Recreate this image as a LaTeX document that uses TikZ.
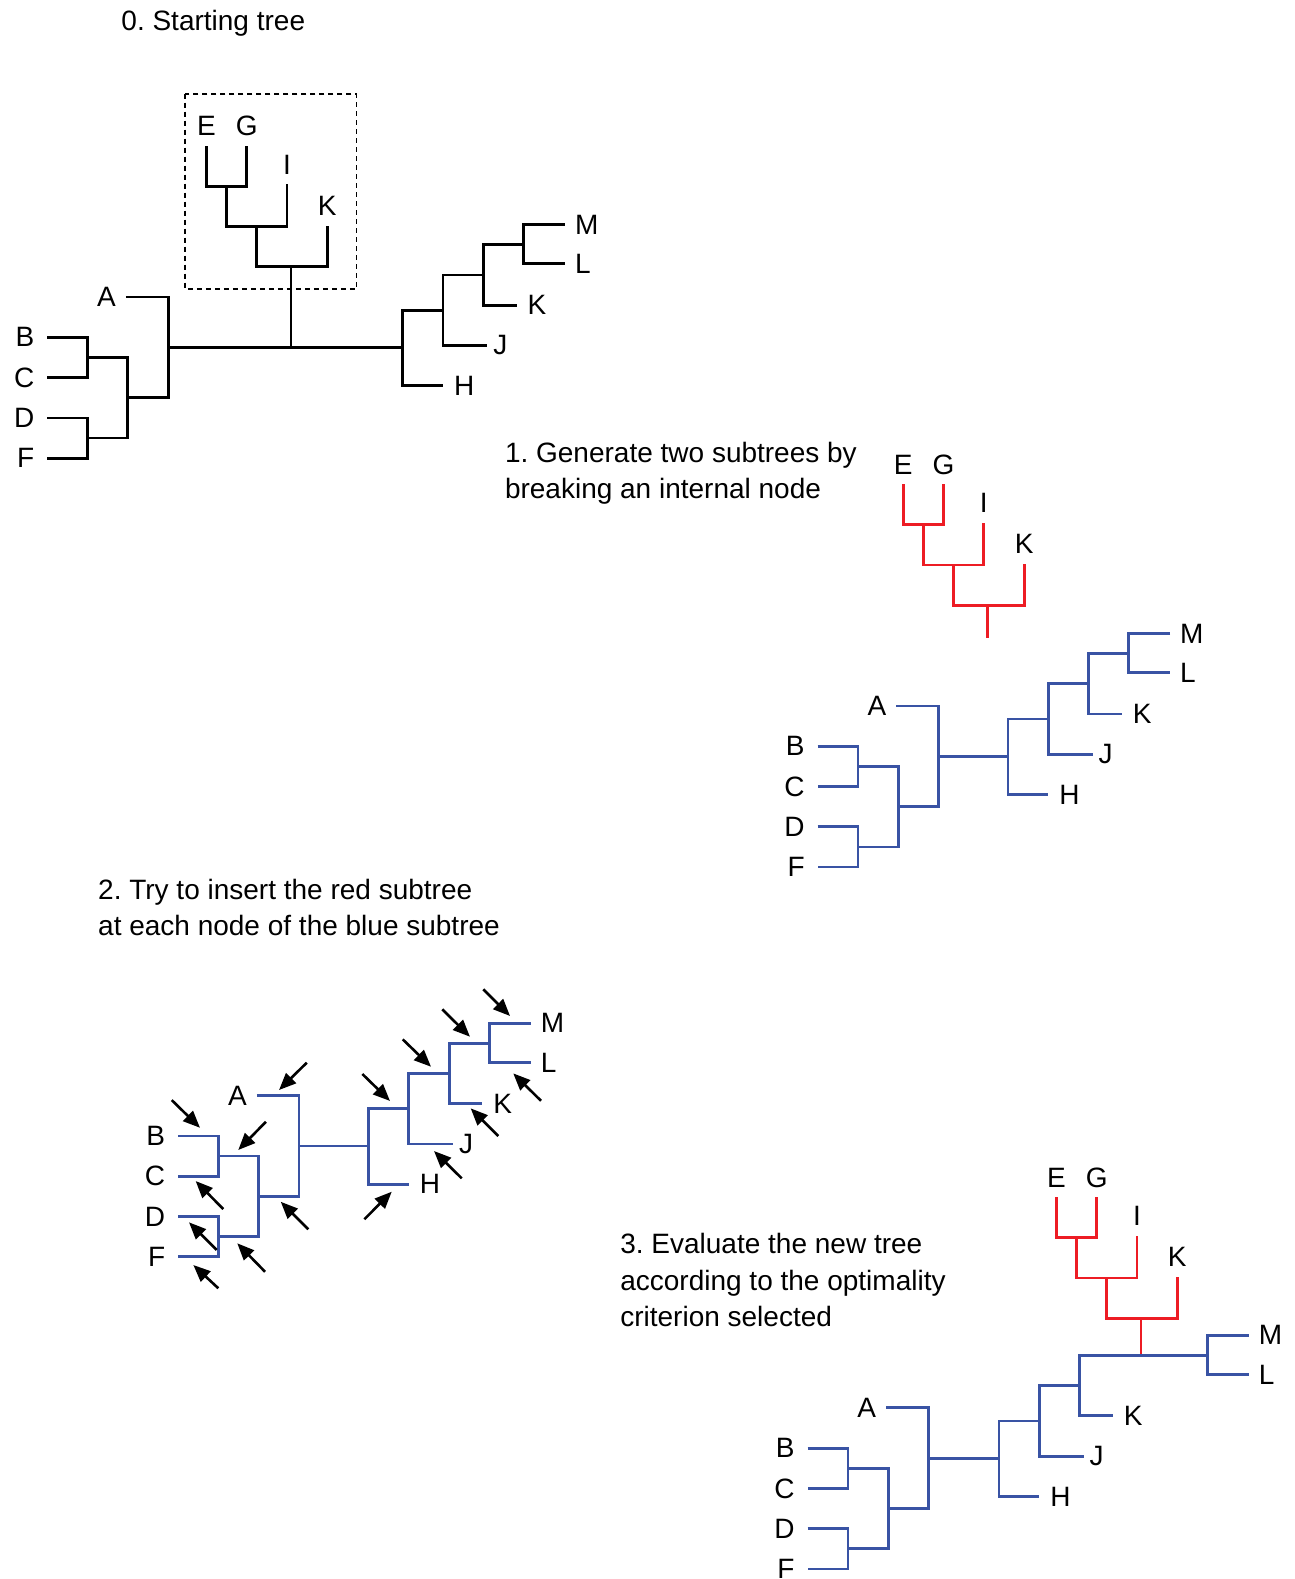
\documentclass[tikz,border=0pt]{standalone}
\usepackage{fontspec}
\setmainfont{Liberation Sans}
\usetikzlibrary{arrows.meta}
\frenchspacing
\definecolor{treeblue}{RGB}{57,83,164}
\definecolor{treered}{RGB}{237,28,36}
\tikzset{
  br/.style={line width=2.8pt, line cap=butt, line join=miter},
  lbl/.style={inner sep=0pt, outer sep=0pt, text=black, font=\fontsize{28pt}{36.3pt}\selectfont},
  txt/.style={inner sep=0pt, outer sep=0pt, anchor=base west, text=black, font=\fontsize{28pt}{36.3pt}\selectfont},
  arr/.style={-{Triangle[length=17pt,width=14pt]}, line width=2.6pt, black},
  dbox/.style={line width=1.8pt, dash pattern=on 5pt off 4pt},
}
% standard tree: #1 prefix, #2 colour, #3,#4 root vertical, #5 root length, #6 x of M/L node
\newcommand\stdtree[6]{%
\begin{scope}[shift={(#3,#4)}, color=#2]
  \draw[br] (-120,-10) -- (-80,-10) -- (-80,30) -- (-120,30);
  \draw[br] (-120,70) -- (-80,70) -- (-80,110) -- (-120,110);
  \draw[br] (-80,10) -- (-40,10) -- (-40,90) -- (-80,90);
  \draw[br] (-42,-50) -- (0,-50) -- (0,50) -- (-40,50);
  \draw[br] (0,0) -- (#5,0);
  \node[lbl,anchor=east] (#1A) at (-52,-50) {A};
  \node[lbl,anchor=east] (#1B) at (-133,-10) {B};
  \node[lbl,anchor=east] (#1C) at (-133,30) {C};
  \node[lbl,anchor=east] (#1D) at (-133,70) {D};
  \node[lbl,anchor=east] (#1F) at (-133,110) {F};
  \begin{scope}[shift={(#5,0)}]
    \draw[br] (40,-37) -- (0,-37) -- (0,38) -- (40,38);
    \draw[br] (80,-72) -- (40,-72) -- (40,-2) -- (84,-2);
    \draw[br] (#6,-102) -- (80,-102) -- (80,-42) -- (113,-42);
    \draw[br] (#6+41,-122) -- (#6,-122) -- (#6,-83) -- (#6+41,-83);
    \node[lbl,anchor=west] (#1H) at (51,38) {H};
    \node[lbl,anchor=west] (#1J) at (90,-2) {J};
    \node[lbl,anchor=west] (#1K) at (124,-42) {K};
    \node[lbl,anchor=west] (#1M) at (#6+51,-122) {M};
    \node[lbl,anchor=west] (#1L) at (#6+51,-83) {L};
  \end{scope}
\end{scope}}
% subtree E G I K: #1 prefix, #2 colour, #3,#4 top of stem, #5 stem length
\newcommand\redsub[5]{%
\begin{scope}[shift={(#3,#4)}, color=#2]
  \draw[br] (-84,-120) -- (-84,-80) -- (-44,-80) -- (-44,-120);
  \draw[br] (-64,-80) -- (-64,-40) -- (-4,-40) -- (-4,-82);
  \draw[br] (-34,-40) -- (-34,0) -- (36,0) -- (36,-41);
  \draw[br] (0,0) -- (0,#5);
  \node[lbl,anchor=south] (#1E) at (-84,-130) {E};
  \node[lbl,anchor=south] (#1G) at (-44,-130) {G};
  \node[lbl,anchor=south] (#1I) at (-4,-92) {I};
  \node[lbl,anchor=south] (#1K) at (36,-51) {K};
\end{scope}}

\begin{document}
\begin{tikzpicture}[x=1.007pt, y=-1.007pt]
\path[use as bounding box, fill=white] (0,0) rectangle (1285,1568);

% ---------- 0. Starting tree ----------
\node[txt] (title0) at (120.6,30.5) {0. Starting tree};
\stdtree{p0}{black}{167}{345}{233}{120}
\redsub{p0s}{black}{289}{265}{80}
\draw[dbox] (184,93) rectangle (354,287);

% ---------- 1. Two subtrees ----------
\node[txt] (step1a) at (501.5,459.5) {1. Generate two subtrees by};
\node[txt] (step1b) at (501.5,495.5) {breaking an internal node};
\redsub{p1s}{treered}{981}{601}{33}
\stdtree{p1}{treeblue}{932}{751}{69}{120}

% ---------- 2. Insertion points ----------
\node[txt] (step2a) at (97.5,893) {2. Try to insert the red subtree};
\node[txt] (step2b) at (97.5,929) {at each node of the blue subtree};
\stdtree{p2}{treeblue}{297}{1138}{69}{120}
\draw[arr] (479.9,982.4) -- (506.5,1008.9);
\draw[arr] (439.2,1002.3) -- (466.7,1029.5);
\draw[arr] (399.9,1032.1) -- (428,1059.3);
\draw[arr] (359.8,1066.5) -- (387.3,1093.3);
\draw[arr] (537.2,1093.1) -- (509.7,1065.9);
\draw[arr] (494.8,1128.1) -- (467.4,1100.6);
\draw[arr] (458.5,1170.1) -- (431,1143);
\draw[arr] (361.8,1210.8) -- (389,1183.4);
\draw[arr] (304.6,1055.3) -- (277.1,1082.4);
\draw[arr] (264.1,1113.9) -- (236.6,1142);
\draw[arr] (170.5,1092.4) -- (198.6,1119.9);
\draw[arr] (221.7,1200.6) -- (194.3,1172.8);
\draw[arr] (215.2,1241.3) -- (187.7,1213.8);
\draw[arr] (216.8,1279.3) -- (192,1256.2);
\draw[arr] (263.2,1262.9) -- (235.6,1234.6);
\draw[arr] (306.2,1220.7) -- (278.8,1193.4);

% ---------- 3. New tree ----------
\node[txt] (step3a) at (616,1245) {3. Evaluate the new tree};
\node[txt] (step3b) at (616,1281) {according to the optimality};
\node[txt] (step3c) at (616,1317) {criterion selected};
\redsub{p3s}{treered}{1133}{1309}{37}
\stdtree{p3}{treeblue}{922}{1448}{70}{207}
\end{tikzpicture}
\end{document}
